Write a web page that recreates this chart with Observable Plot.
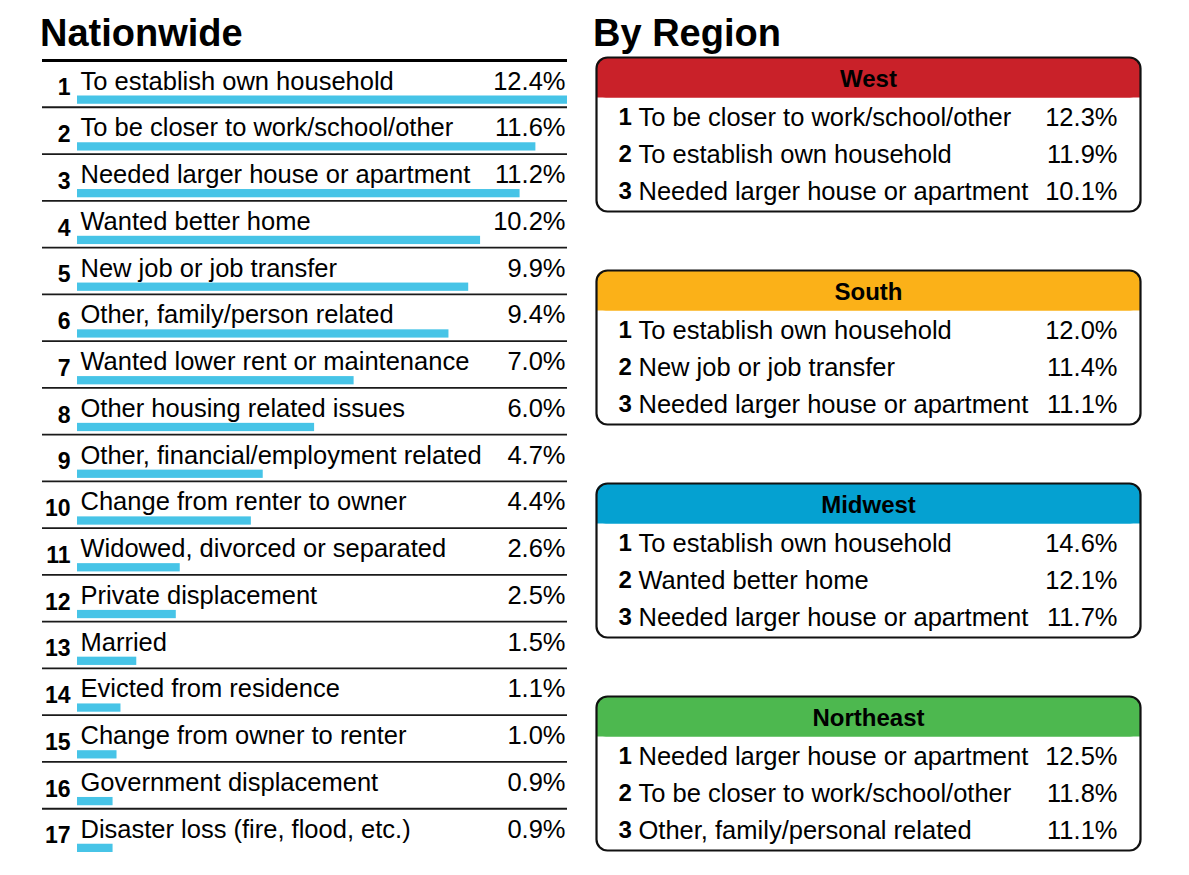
<!DOCTYPE html>
<html>
<head>
<meta charset="utf-8">
<script src="https://cdn.jsdelivr.net/npm/d3@7"></script>
<script src="https://cdn.jsdelivr.net/npm/@observablehq/plot@0.6"></script>
<style>
  body { margin: 0; background: #fff; }
  #root { position: relative; width: 1189px; height: 875px; background: #fff; overflow: hidden;
          font-family: "Liberation Sans", Arial, Helvetica, sans-serif; color: #000; }
  .title { position: absolute; font-weight: bold; font-size: 38px; line-height: 38px; color: #000; z-index: 2; white-space: nowrap; }
  .panel { position: absolute; }
  .panel svg { display: block; background: transparent; max-width: none; }
</style>
</head>
<body>
<div id="root"></div>
<script>
// ---------- data ----------
const nationReasons = [
  "To establish own household",
  "To be closer to work/school/other",
  "Needed larger house or apartment",
  "Wanted better home",
  "New job or job transfer",
  "Other, family/person related",
  "Wanted lower rent or maintenance",
  "Other housing related issues",
  "Other, financial/employment related",
  "Change from renter to owner",
  "Widowed, divorced or separated",
  "Private displacement",
  "Married",
  "Evicted from residence",
  "Change from owner to renter",
  "Government displacement",
  "Disaster loss (fire, flood, etc.)"
];
const nationShares = [12.4, 11.6, 11.2, 10.2, 9.9, 9.4, 7.0, 6.0, 4.7, 4.4, 2.6, 2.5, 1.5, 1.1, 1.0, 0.9, 0.9];

const regions = ["West", "South", "Midwest", "Northeast"];
const regionColors = ["#c92129", "#fbb118", "#05a1d1", "#4db84f"];

const westReasons = ["To be closer to work/school/other", "To establish own household", "Needed larger house or apartment"];
const westShares = [12.3, 11.9, 10.1];
const southReasons = ["To establish own household", "New job or job transfer", "Needed larger house or apartment"];
const southShares = [12.0, 11.4, 11.1];
const midwestReasons = ["To establish own household", "Wanted better home", "Needed larger house or apartment"];
const midwestShares = [14.6, 12.1, 11.7];
const northeastReasons = ["Needed larger house or apartment", "To be closer to work/school/other", "Other, family/personal related"];
const northeastShares = [12.5, 11.8, 11.1];

const regionReasons = [westReasons, southReasons, midwestReasons, northeastReasons];
const regionShares = [westShares, southShares, midwestShares, northeastShares];

// ---------- layout ----------
const FONT = '"Liberation Sans", Arial, Helvetica, sans-serif';
const LABEL_SIZE = 25.5;
const root = document.getElementById("root");

function addTitle(text, left, top) {
  const d = document.createElement("div");
  d.className = "title";
  d.textContent = text;
  d.style.left = left + "px";
  d.style.top = top + "px";
  root.appendChild(d);
}
function addPanel(node, left, top, width, height) {
  const d = document.createElement("div");
  d.className = "panel";
  d.style.left = left + "px";
  d.style.top = top + "px";
  d.style.width = width + "px";
  d.style.height = height + "px";
  d.appendChild(node);
  root.appendChild(d);
}

// ---------- Nationwide ----------
const nation = nationReasons.map((r, i) => ({rank: i + 1, reason: r, share: nationShares[i]}));
const natTop = 60, natBottom = 855, natH = 875, natW = 590;
const bw = (natBottom - natTop) / nation.length;
const fmt = v => v.toFixed(1) + "%";

const natPlot = Plot.plot({
  width: natW, height: natH,
  marginLeft: 77, marginRight: 23, marginTop: natTop, marginBottom: natH - natBottom,
  style: {fontFamily: FONT, background: "transparent", color: "#000", overflow: "visible"},
  x: {domain: [0, d3.max(nationShares)], axis: null},
  y: {type: "band", domain: nation.map(d => d.rank), padding: 0, round: false, axis: null},
  marks: [
    Plot.barX(nation, {x: "share", y: "rank", fill: "#47c4e7", insetTop: 35.5, insetBottom: 3}),
    Plot.ruleY(nation.slice(1), {y: "rank", dy: -bw / 2, stroke: "#1a1a1a", strokeWidth: 1.8, insetLeft: -35}),
    Plot.ruleY(nation.slice(0, 1), {y: "rank", dy: -bw / 2, stroke: "#000", strokeWidth: 3, insetLeft: -35}),
    Plot.text(nation, {y: "rank", text: "reason", frameAnchor: "left", textAnchor: "start",
      dx: 3, dy: -2.5, fontSize: LABEL_SIZE, fill: "#000"}),
    Plot.text(nation, {y: "rank", text: d => String(d.rank), frameAnchor: "left", textAnchor: "end",
      dx: -7, dy: 4, fontSize: 23, fontWeight: "bold", fill: "#000"}),
    Plot.text(nation, {y: "rank", text: d => fmt(d.share), frameAnchor: "right", textAnchor: "end",
      dx: -2, dy: -2.5, fontSize: LABEL_SIZE, fill: "#000"})
  ]
});
addPanel(natPlot, 0, 0, natW, natH);

// ---------- By Region ----------
const boxTops = [50, 263, 476, 689];
regions.forEach((reg, k) => {
  const rows = regionReasons[k].map((r, i) => ({row: String(i + 1), reason: r, share: regionShares[k][i]}));
  const color = regionColors[k];
  const p = Plot.plot({
    width: 560, height: 168,
    marginLeft: 6, marginRight: 10, marginTop: 7, marginBottom: 7,
    style: {fontFamily: FONT, background: "transparent", color: "#000", overflow: "visible"},
    x: {domain: [0, 1], axis: null},
    y: {type: "band", domain: ["h", "1", "2", "3"], range: [11, 159], padding: 0, round: false, axis: null},
    marks: [
      Plot.barX([reg], {x1: 0, x2: 1, y: () => "h", fill: color, rx: 10, insetTop: -4, insetBottom: 0.5}),
      Plot.barX([reg], {x1: 0, x2: 1, y: () => "h", fill: color, insetTop: 16, insetBottom: 0.5}),
      Plot.frame({rx: 11, stroke: "#111", strokeWidth: 2.2}),
      Plot.text([reg], {y: () => "h", text: d => d, fontWeight: "bold", fontSize: 24, fill: "#000", dy: -1}),
      Plot.text(rows, {y: "row", text: "row", frameAnchor: "left", textAnchor: "start",
        dx: 22, dy: 0.5, fontSize: 24, fontWeight: "bold", fill: "#000"}),
      Plot.text(rows, {y: "row", text: "reason", frameAnchor: "left", textAnchor: "start",
        dx: 42, dy: 0.5, fontSize: LABEL_SIZE, fill: "#000"}),
      Plot.text(rows, {y: "row", text: d => fmt(d.share), frameAnchor: "right", textAnchor: "end",
        dx: -23, dy: 0.5, fontSize: LABEL_SIZE, fill: "#000"})
    ]
  });
  addPanel(p, 590, boxTops[k], 560, 168);
});

addTitle("Nationwide", 40, 14);
addTitle("By Region", 593, 14);
</script>
</body>
</html>
